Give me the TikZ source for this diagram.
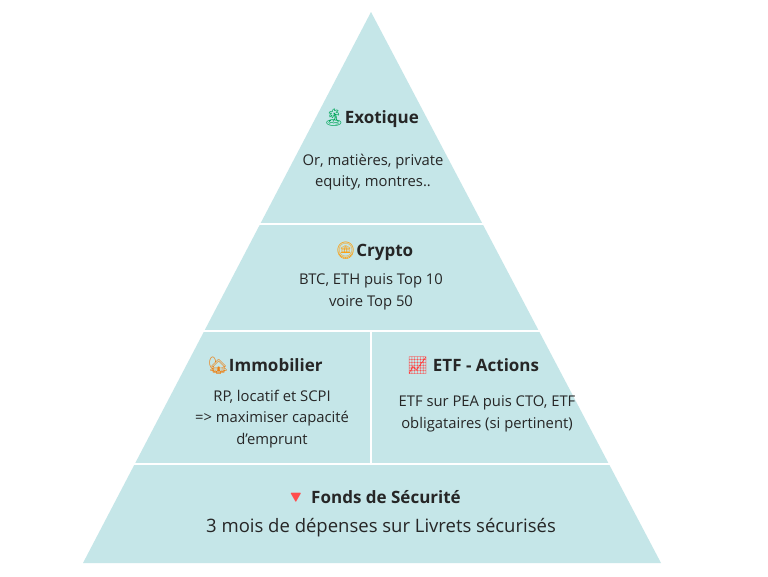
\documentclass[tikz,border=0pt]{standalone}
\usepackage{fontspec}
\setmainfont{Open Sans}
\newfontfamily\emo{Noto Emoji}
\begin{document}
\begin{tikzpicture}[x=1pt,y=-1pt,
  ttl/.style={font=\bfseries\fontsize{17}{20}\selectfont,text=black!85},
  bod/.style={font=\fontsize{14.8}{21.5}\selectfont,align=center,text=black!85},
  sep/.style={white,line width=1.8pt}]
\useasboundingbox (0,0) rectangle (768,576);
\fill[white] (0,0) rectangle (768,576);
\coordinate (A) at (371,12);
\coordinate (L) at (83,563);
\coordinate (R) at (661,563);
\fill[fill={rgb,255:red,197;green,230;blue,232}] (A)--(L)--(R)--cycle;
\draw[sep] (240,224)--(500,224);
\draw[sep] (180,331)--(560,331);
\draw[sep] (100,464)--(640,464);
\draw[sep] (371,331)--(371,464);
\node[ttl] (t1) at (371,118) {{\emo\textcolor{teal!70!green}{🏝}}Exotique};
\node[bod] (b1) at (373,172) {Or, matières, private\\equity, montres..};
\node[ttl] (t2) at (374,251) {{\emo\textcolor{orange!80!yellow}{🪙}}Crypto};
\node[bod] (b2) at (371,292) {BTC, ETH puis Top 10\\voire Top 50};
\node[ttl] (t3) at (265,366) {{\emo\textcolor{orange!70!brown}{🏡}}Immobilier};
\node[bod] (b3) at (272,419) {RP, locatif et SCPI\\=> maximiser capacité\\d’emprunt};
\node[ttl] (t4) at (473,366) {{\emo\textcolor{red!75}{📈}} ETF - Actions};
\node[bod] (b4) at (487,414) {ETF sur PEA puis CTO, ETF\\obligataires (si pertinent)};
\node[ttl] (t5) at (373,497) {{\emo\textcolor{red!70}{🔻}} Fonds de Sécurité};
\node[bod,font=\fontsize{18.5}{22}\selectfont] (b5) at (381,528) {3 mois de dépenses sur Livrets sécurisés};
\end{tikzpicture}
\end{document}
